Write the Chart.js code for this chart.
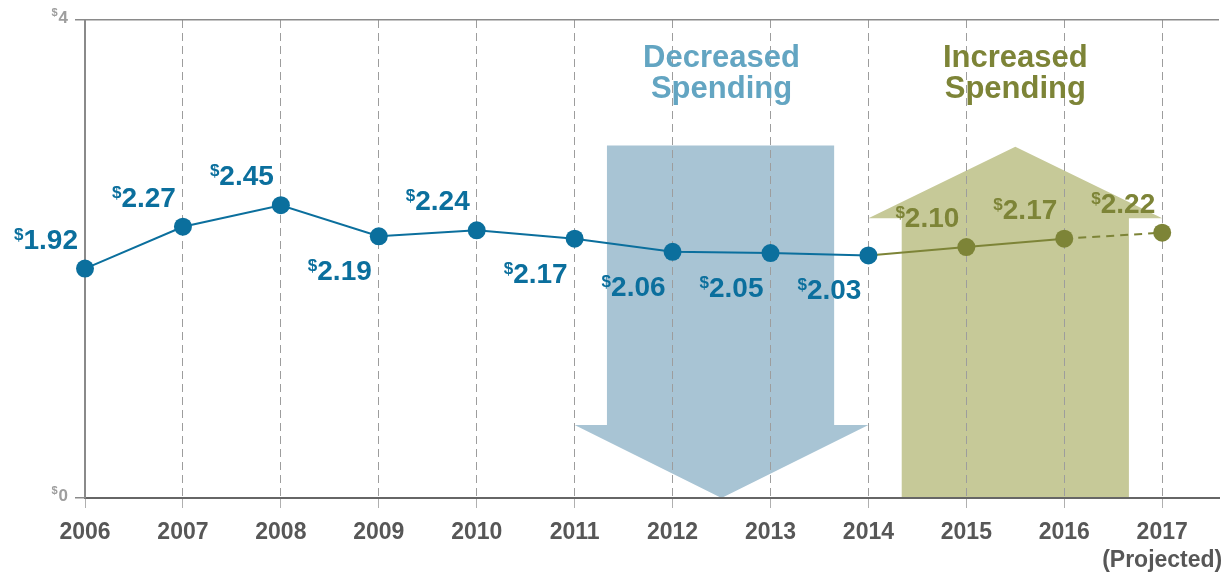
<!DOCTYPE html>
<html lang="en">
<head>
<meta charset="UTF-8" />
<title>Spending by year</title>
<script src="https://cdn.jsdelivr.net/npm/chart.js"></script>
<style>
  html, body { margin: 0; padding: 0; background: #fff; }
  #wrap { width: 1228px; height: 575px; }
</style>
</head>
<body>
<div id="wrap"><canvas id="chart" width="1228" height="575"></canvas></div>
<script>
const years = [2006, 2007, 2008, 2009, 2010, 2011, 2012, 2013, 2014, 2015, 2016, 2017];
const spending = [1.92, 2.27, 2.45, 2.19, 2.24, 2.17, 2.06, 2.05, 2.03, 2.10, 2.17, 2.22];
const labelAbove = [true, true, true, false, true, false, false, false, false, true, true, true];
const increaseFromYear = 2014;
const projectedYear = 2017;
const yTicks = [0, 4];
const titles = [['Decreased', 'Spending'], ['Increased', 'Spending']];

const BLUE = '#0b6f9d';
const OLIVE = '#7d8437';
const FONT = '"Liberation Sans", Arial, sans-serif';

const points = years.map((yr, i) => ({ x: yr, y: spending[i] }));
const bluePoints = points.filter(p => p.x <= increaseFromYear);
const olivePoints = points.filter(p => p.x >= increaseFromYear);

// arrows + text drawn on the canvas using the chart scales
const decorPlugin = {
  id: 'decor',
  beforeDraw(chart) {
    const { ctx, scales: { x, y } } = chart;
    const poly = (pts, color) => {
      ctx.save();
      ctx.fillStyle = color;
      ctx.beginPath();
      pts.forEach(([vx, vy], i) => {
        const px = x.getPixelForValue(vx), py = y.getPixelForValue(vy);
        if (i === 0) ctx.moveTo(px, py); else ctx.lineTo(px, py);
      });
      ctx.closePath();
      ctx.fill();
      ctx.restore();
    };
    // down arrow
    poly([[2011.33, 2.95], [2013.65, 2.95], [2013.65, 0.61], [2014.0, 0.61],
          [2012.5, 0], [2011.0, 0.61], [2011.33, 0.61]], '#a8c4d4');
    // up arrow
    poly([[2014.34, 0], [2016.66, 0], [2016.66, 2.34], [2017.0, 2.34],
          [2015.5, 2.94], [2014.0, 2.34], [2014.34, 2.34]], '#c6c998');
  },
  afterDatasetsDraw(chart) {
    const { ctx, scales: { x, y } } = chart;
    ctx.save();

    // value labels with small superscript $
    years.forEach((yr, i) => {
      const px = x.getPixelForValue(yr);
      const py = y.getPixelForValue(spending[i]);
      const txt = spending[i].toFixed(2);
      ctx.fillStyle = yr > increaseFromYear ? OLIVE : BLUE;
      ctx.font = 'bold 28px ' + FONT;
      const w = ctx.measureText(txt).width;
      const x0 = px - 7 - w;
      const base = labelAbove[i] ? py - 20 : py + 44;
      ctx.textAlign = 'left';
      ctx.textBaseline = 'alphabetic';
      ctx.fillText(txt, x0, base);
      ctx.font = 'bold 17px ' + FONT;
      const dw = ctx.measureText('$').width;
      ctx.fillText('$', x0 - dw, base - 9);
    });

    // y tick labels
    yTicks.forEach(v => {
      const py = y.getPixelForValue(v);
      ctx.fillStyle = '#9e9e9e';
      ctx.textAlign = 'right';
      ctx.font = 'bold 17px ' + FONT;
      const nw = ctx.measureText(String(v)).width;
      ctx.fillText(String(v), 68, py + 3);
      ctx.font = 'bold 11px ' + FONT;
      ctx.fillText('$', 67 - nw, py - 4);
    });

    // arrow titles
    ctx.textAlign = 'center';
    ctx.font = 'bold 31px ' + FONT;
    [[2012.5, '#63a5c2', titles[0]], [2015.5, OLIVE, titles[1]]].forEach(([vx, col, lines]) => {
      ctx.fillStyle = col;
      const px = x.getPixelForValue(vx);
      ctx.fillText(lines[0], px, 67);
      ctx.fillText(lines[1], px, 98);
    });
    ctx.restore();
  }
};

new Chart(document.getElementById('chart'), {
  type: 'line',
  data: {
    datasets: [
      {
        data: bluePoints,
        borderColor: BLUE,
        borderWidth: 2,
        pointRadius: 9,
        pointHoverRadius: 9,
        pointBackgroundColor: BLUE,
        pointBorderWidth: 0,
        tension: 0,
        clip: false
      },
      {
        data: olivePoints,
        borderColor: OLIVE,
        borderWidth: 2,
        pointRadius: c => (c.dataIndex === 0 ? 0 : 9),
        pointHoverRadius: 9,
        pointBackgroundColor: OLIVE,
        pointBorderWidth: 0,
        tension: 0,
        clip: false,
        segment: {
          borderDash: c => (c.p1.parsed.x >= projectedYear ? [8, 6] : undefined)
        }
      }
    ]
  },
  options: {
    responsive: false,
    animation: false,
    devicePixelRatio: 1,
    layout: { padding: { left: 75, right: 2, top: 20, bottom: 0 } },
    plugins: { legend: { display: false }, tooltip: { enabled: false } },
    scales: {
      x: {
        type: 'linear',
        min: 2006,
        max: 2017.58,
        afterBuildTicks: s => { s.ticks = years.map(v => ({ value: v })); },
        afterFit: s => { s.height = 77; s.paddingLeft = 0; s.paddingRight = 0; },
        ticks: {
          autoSkip: false,
          maxRotation: 0,
          padding: 11,
          color: '#575757',
          font: { family: FONT, size: 23, weight: 'bold' },
          callback: v => (v === projectedYear ? [String(v), '(Projected)'] : String(v))
        },
        grid: { color: '#9d9d9d', lineWidth: 1, tickLength: 10, tickColor: '#b0b0b0' },
        border: { color: '#666', width: 2, dash: [8, 5] }
      },
      y: {
        min: 0,
        max: 4,
        afterBuildTicks: s => { s.ticks = yTicks.map(v => ({ value: v })); },
        ticks: { display: false },
        grid: { color: '#8a8a8a', lineWidth: 1.5, tickLength: 10, tickColor: '#8a8a8a' },
        border: { color: '#8a8a8a', width: 2 }
      }
    }
  },
  plugins: [decorPlugin]
});
</script>
</body>
</html>
